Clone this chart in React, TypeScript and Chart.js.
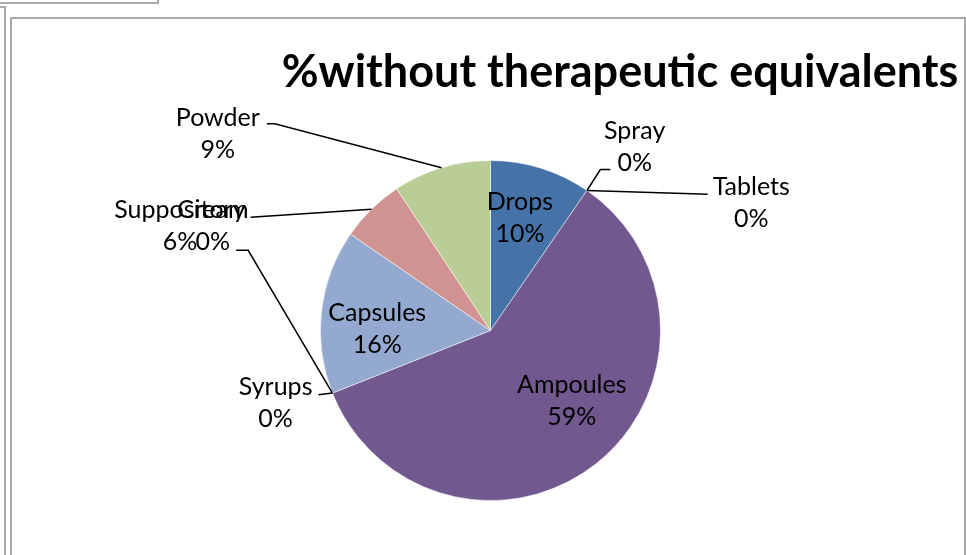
import React, { useEffect, useRef } from "react";
import { Chart, registerables } from "chart.js";

Chart.register(...registerables);

const chartTitle = "%without therapeutic equivalents";
const categories = ["Drops", "Spray", "Tablets", "Ampoules", "Syrups", "Cream", "Capsules", "Suppository", "Powder"];
const shares = [9.6, 0, 0, 59.4, 0, 0, 15.6, 6.1, 9.3];
const sliceColors = ["#4572A7", "#AA4643", "#89A54E", "#71588F", "#4198AF", "#DB843D", "#93A9CF", "#D19392", "#B9CD96"];

// label layout: text block (first line centre) relative to pie centre, in radius units
const labelLayout = [
  { dx: 0.173, dy: -0.754, leader: null },
  { dx: 0.848, dy: -1.176, leader: { side: "left", line: 1, gap: 7, off: 7, stub: 10 } },
  { dx: 1.534, dy: -0.842, leader: { side: "left", line: 0, gap: 5, off: 7, stub: 0 } },
  { dx: 0.478, dy: 0.32, leader: null },
  { dx: -1.264, dy: 0.331, leader: { side: "right", line: 0, gap: 6, off: 8, stub: 0 } },
  { dx: -1.633, dy: -0.707, leader: { side: "right", line: 1, gap: 6, off: 8, stub: 12 } },
  { dx: -0.666, dy: -0.103, leader: null },
  { dx: -1.827, dy: -0.707, leader: { side: "right", line: 0, gap: 5, off: 7, stub: 0 } },
  { dx: -1.604, dy: -1.252, leader: { side: "right", line: 0, gap: 7, off: 6, stub: 8 } },
];

const LABEL_FONT = "25px Lato";
const TITLE_FONT = "bold 45px Lato";
const LINE_GAP = 32;

const labelPlugin = {
  id: "excelLabels",
  afterDatasetsDraw(chart: any) {
    const ctx = chart.ctx;
    const meta = chart.getDatasetMeta(0);
    const values = chart.data.datasets[0].data as number[];
    const total = values.reduce((a, b) => a + b, 0);
    ctx.save();
    ctx.font = LABEL_FONT;
    ctx.fillStyle = "#000";
    ctx.textAlign = "center";
    ctx.textBaseline = "middle";
    meta.data.forEach((arc: any, i: number) => {
      const lay = labelLayout[i];
      const R = arc.outerRadius;
      const cx = arc.x + lay.dx * R;
      const cy = arc.y + lay.dy * R;
      const pct = Math.round((values[i] / total) * 100) + "%";
      const lines = [chart.data.labels[i], pct];
      lines.forEach((t: string, k: number) => ctx.fillText(t, cx, cy + k * LINE_GAP));
      const ld = lay.leader;
      if (ld) {
        const w = ctx.measureText(lines[ld.line]).width;
        const ly = cy + ld.line * LINE_GAP + ld.off;
        const sx = ld.side === "left" ? cx - w / 2 - ld.gap : cx + w / 2 + ld.gap;
        const mx = ld.side === "left" ? sx - ld.stub : sx + ld.stub;
        const mid = (arc.startAngle + arc.endAngle) / 2;
        const ex = arc.x + R * Math.cos(mid);
        const ey = arc.y + R * Math.sin(mid);
        ctx.beginPath();
        ctx.strokeStyle = "#000";
        ctx.lineWidth = 1.5;
        ctx.moveTo(sx, ly);
        ctx.lineTo(mx, ly);
        ctx.lineTo(ex, ey);
        ctx.stroke();
      }
    });
    ctx.font = TITLE_FONT;
    ctx.textAlign = "center";
    ctx.fillText(chartTitle, 620, 72);
    ctx.restore();
  },
};

export default function App() {
  const ref = useRef<HTMLCanvasElement>(null);
  useEffect(() => {
    if (!ref.current) return;
    const chart = new Chart(ref.current, {
      type: "pie",
      data: {
        labels: categories,
        datasets: [
          {
            data: shares,
            backgroundColor: sliceColors,
            borderColor: "rgba(255,255,255,0.5)",
            borderWidth: 1,
          },
        ],
      },
      options: {
        responsive: false,
        animation: false,
        layout: { padding: { top: 160, bottom: 54, left: 320, right: 305 } },
        plugins: { legend: { display: false }, tooltip: { enabled: false }, title: { display: false } },
      },
      plugins: [labelPlugin],
    });
    return () => chart.destroy();
  }, []);

  const line = "2px solid #A9A9A9";
  return (
    <div style={{ position: "fixed", left: 0, top: 0, width: 966, height: 555, overflow: "hidden", background: "#fff" }}>
      <div style={{ position: "absolute", left: -6, top: -6, width: 165, height: 10, borderRight: line, borderBottom: line, boxSizing: "border-box" }} />
      <div style={{ position: "absolute", left: -100, top: 6, width: 106, height: 700, borderTop: line, borderRight: line, boxSizing: "border-box" }} />
      <div style={{ position: "absolute", left: 10, top: 17, width: 956, height: 700, border: line, boxSizing: "border-box" }} />
      <canvas ref={ref} width={966} height={555} style={{ position: "absolute", left: 0, top: 0, width: 966, height: 555 }} />
    </div>
  );
}
